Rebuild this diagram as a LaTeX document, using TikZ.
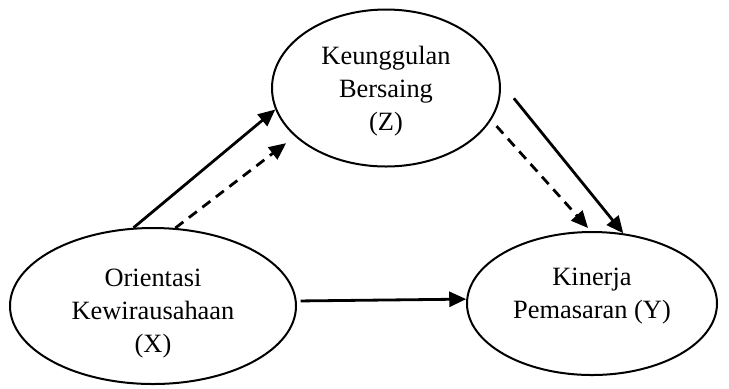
\documentclass[tikz,border=0pt]{standalone}
\usepackage{fontspec}
\setmainfont{Liberation Serif}
\usepackage{tikz}
\usetikzlibrary{shapes.geometric, arrows.meta, positioning, calc}
\tikzset{
  varNode/.style = {ellipse, draw=black, line width=1pt, inner sep=0pt,
    align=center, font=\fontsize{13.2}{16.5}\selectfont},
  direct/.style = {-{Triangle[length=8.5pt, width=7.5pt]}, line width=1.4pt, draw=black},
  indirect/.style = {-{Triangle[length=8.5pt, width=7.5pt]}, line width=1.4pt, draw=black,
    dash pattern=on 5pt off 3.5pt},
}

\begin{document}
\begin{tikzpicture}[x=0.5pt, y=-0.5pt]
\useasboundingbox (0,0) rectangle (729,388);
\node[varNode, minimum width=143pt, minimum height=78pt, text height=46pt, text depth=0pt] (x) at (153,306) {Orientasi\\Kewirausahaan\\(X)};
\node[varNode, minimum width=114pt, minimum height=78.5pt, text height=42pt, text depth=0pt] (z) at (386,88) {Keunggulan\\Bersaing\\(Z)};
\node[varNode, minimum width=125pt, minimum height=71.5pt, text height=26pt, text depth=11.5pt] (y) at (592,303.5) {Kinerja\\Pemasaran (Y)};

\draw[direct] (x.104.5) -- (z.191.9);
\draw[indirect, shorten >=5.5pt] (x.74.2) -- (z.208.6);
\draw[direct, shorten <=10.5pt] (z.3.1) -- (y.66.6);
\draw[indirect, shorten <=4pt, shorten >=2pt] (z.343) -- (y.91.5);
\draw[direct, shorten <=2pt] (x.2.4) -- (y.178.4);
\end{tikzpicture}
\end{document}
